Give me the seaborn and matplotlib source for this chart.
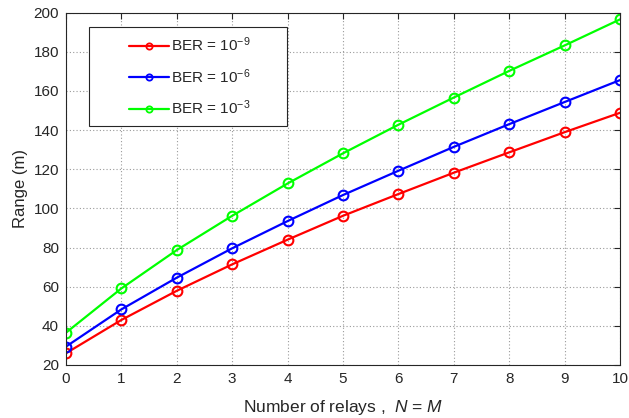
import numpy as np
import pandas as pd
import matplotlib
matplotlib.use('Agg')
import matplotlib.pyplot as plt
import matplotlib.patches as mpatches
import seaborn as sns

# data
relays = [0, 1, 2, 3, 4, 5, 6, 7, 8, 9, 10]
range_ber9 = [26.0, 43.0, 57.9, 71.4, 84.0, 96.2, 107.3, 118.2, 128.6, 138.9, 148.8]
range_ber6 = [29.4, 48.4, 64.6, 79.6, 93.5, 106.8, 119.2, 131.4, 143.0, 154.3, 165.5]
range_ber3 = [36.5, 59.1, 78.7, 96.2, 112.7, 128.1, 142.7, 156.6, 170.2, 183.2, 196.5]
labels = ['BER = 10$^{-9}$', 'BER = 10$^{-6}$', 'BER = 10$^{-3}$']
colors = ['#ff0000', '#0000ff', '#00ff00']
x_ticks = list(range(0, 11))
y_ticks = list(range(20, 201, 20))

sns.set_style('white')
plt.rcParams['font.family'] = ['Liberation Sans', 'DejaVu Sans']
plt.rcParams['mathtext.fontset'] = 'custom'
plt.rcParams['mathtext.rm'] = 'Liberation Sans'
plt.rcParams['mathtext.it'] = 'Liberation Sans:italic'

df = pd.DataFrame({
    'relays': relays * 3,
    'range': range_ber9 + range_ber6 + range_ber3,
    'ber': [labels[0]] * 11 + [labels[1]] * 11 + [labels[2]] * 11,
})

fig = plt.figure(figsize=(6.29, 4.18), dpi=100)
ax = fig.add_axes([0.1049, 0.1268, 0.8808, 0.8432])

for lab, col in zip(labels, colors):
    sns.lineplot(data=df[df['ber'] == lab], x='relays', y='range', ax=ax,
                 color=col, linewidth=1.6, marker='o', markersize=7,
                 markerfacecolor='none', markeredgecolor=col,
                 markeredgewidth=1.5, label=lab)

ax.set_xlim(0, 10)
ax.set_ylim(20, 200)
ax.set_xticks(x_ticks)
ax.set_yticks(y_ticks)
ax.tick_params(direction='in', top=True, right=True, labelsize=11,
               length=4, color='#262626', labelcolor='#262626', pad=5)
ax.grid(True, linestyle=(0, (1, 2)), color='#9a9a9a', linewidth=0.8)
for s in ax.spines.values():
    s.set_color('#262626')
    s.set_linewidth(0.8)

ax.set_xlabel('Number of relays ,  $N$ = $M$', fontsize=12.5, color='#262626')
ax.xaxis.set_label_coords(0.5, -0.093)
ax.set_ylabel('Range (m)', fontsize=12, color='#262626')
ax.yaxis.set_label_coords(-0.068, 0.5)

# legend box drawn separately (wide side padding like the reference)
box = mpatches.Rectangle((0.0415, 0.678), 0.3575, 0.281, transform=ax.transAxes,
                         facecolor='white', edgecolor='#262626', linewidth=0.8,
                         zorder=4)
ax.add_patch(box)
leg = ax.legend(loc='upper left', bbox_to_anchor=(0.1137, 0.935), fontsize=11,
                handlelength=2.6, labelspacing=0.85, borderpad=0,
                handletextpad=0.15, borderaxespad=0, frameon=False)
leg.set_zorder(5)
for h in leg.legend_handles:
    h.set_markersize(4.5)
    h.set_markeredgewidth(1.3)
for t in leg.get_texts():
    t.set_color('#262626')

fig.savefig('out.png', dpi=100)
